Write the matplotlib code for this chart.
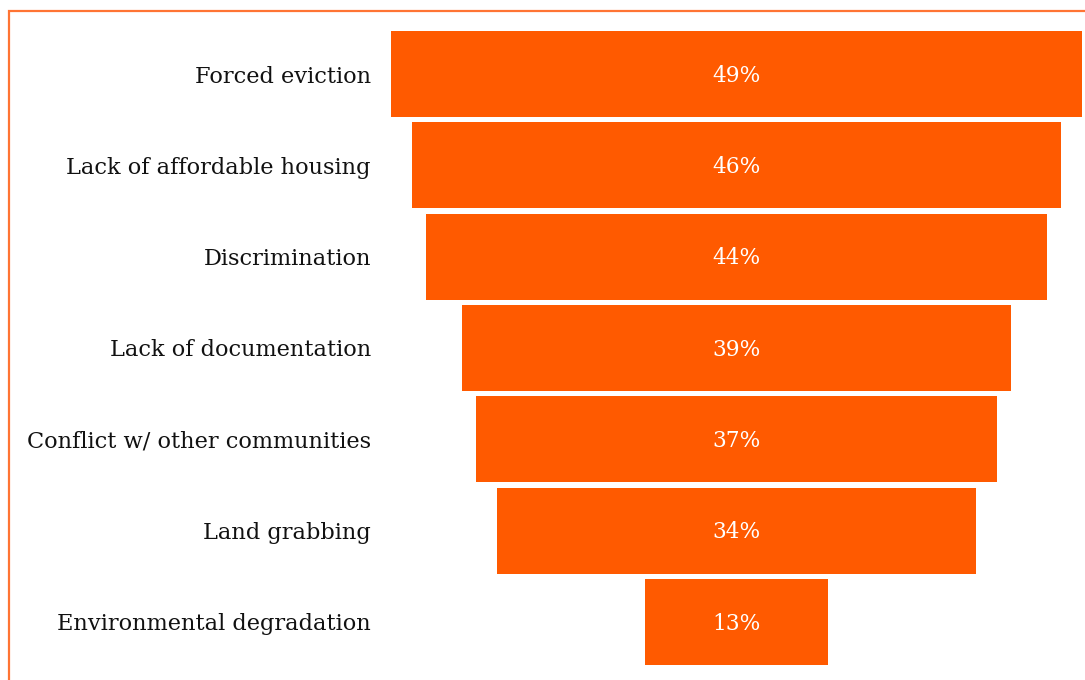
import numpy as np
import matplotlib
matplotlib.use('Agg')
from matplotlib import pyplot as plt
from matplotlib.patches import Rectangle

categories = [
    'Forced eviction',
    'Lack of affordable housing',
    'Discrimination',
    'Lack of documentation',
    'Conflict w/ other communities',
    'Land grabbing',
    'Environmental degradation',
]
shares = [49, 46, 44, 39, 37, 34, 13]

orange = '#FF5A00'
plt.rcParams['font.family'] = ['DejaVu Serif']

W, H = 1085, 680
figure = plt.figure(figsize=(W / 100, H / 100), dpi=100)

# funnel area in pixels: left 391, right 1082, top 31, bottom 665
axes = figure.add_axes([391 / W, 1 - 665 / H, (1082 - 391) / W, (665 - 31) / H])

bar_height = 0.942
half = bar_height / 2
y = np.arange(len(categories))
values = np.array(shares, dtype=float)

# centred bars make the funnel
axes.barh(y, values, left=-values / 2, height=bar_height, color=orange, linewidth=0)
for yi, v in zip(y, values):
    axes.text(0, yi + 0.02, '%d%%' % v, ha='center', va='center', color='white', fontsize=15.6)

axes.set_xlim(-24.5, 24.5)
axes.set_ylim(len(categories) - 1 + half, -half)
axes.set_yticks(y)
axes.set_yticklabels(categories, fontsize=16.2, color='#111111')
axes.tick_params(axis='y', length=0, pad=14.5)
axes.set_xticks([])
for spine in axes.spines.values():
    spine.set_visible(False)

# frame around the figure, cut off at right and bottom
frame = Rectangle((9 / W, -0.05), 1.1, 1 - 11 / H + 0.05, transform=figure.transFigure,
                  fill=False, edgecolor='#FF7433', linewidth=1.6, clip_on=False)
figure.patches.append(frame)

figure.savefig('out.png', dpi=100)
